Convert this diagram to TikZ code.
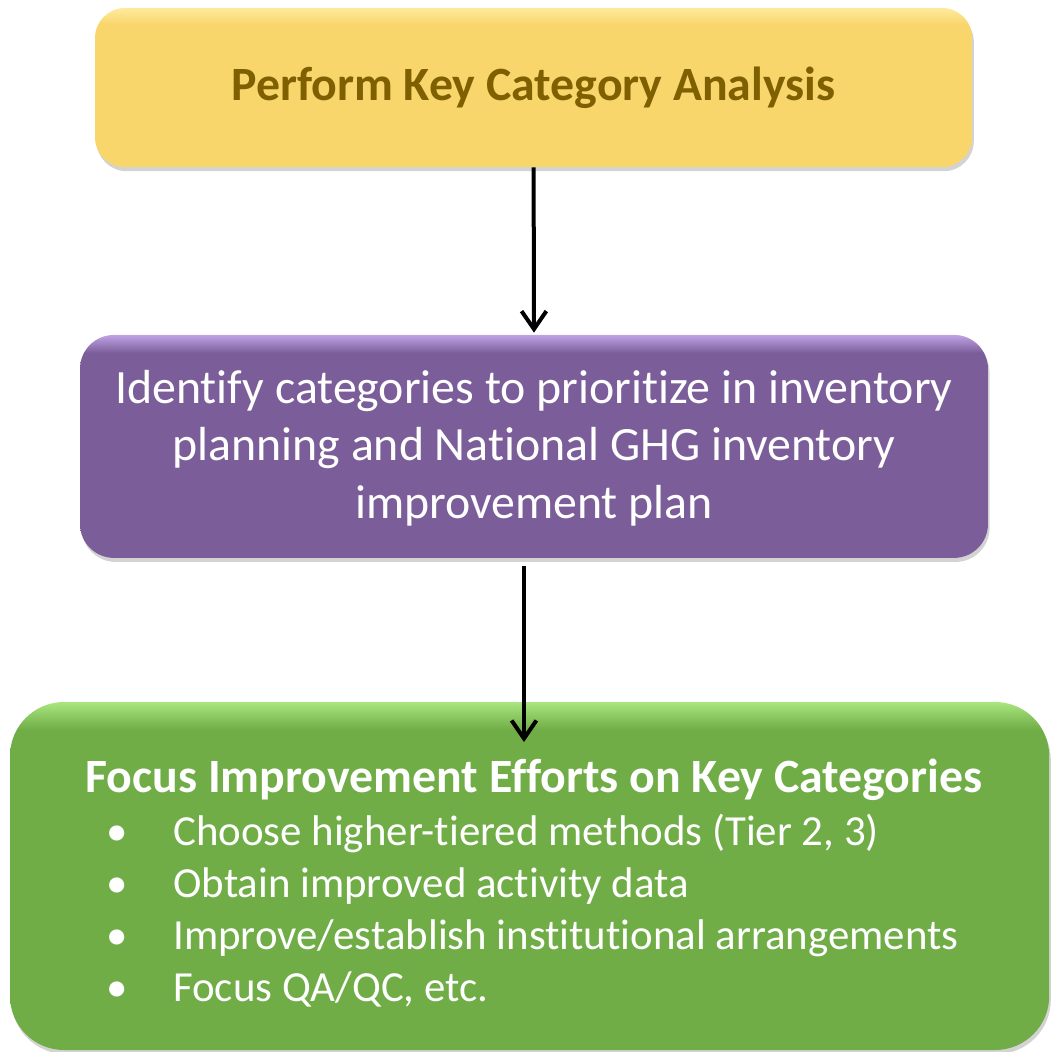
\documentclass[tikz,border=0pt]{standalone}
\usepackage{fontspec}
\setmainfont{Carlito}[Ligatures=NoCommon]
\usepackage{tikz}
\usetikzlibrary{arrows.meta,shadows,positioning}
\definecolor{ybase}{RGB}{249,214,108}
\definecolor{ytop}{RGB}{254,234,158}
\definecolor{ytext}{RGB}{127,96,0}
\definecolor{pbase}{RGB}{123,94,153}
\definecolor{ptop}{RGB}{192,163,230}
\definecolor{gbase}{RGB}{112,173,71}
\definecolor{gtop}{RGB}{170,230,128}
\pgfdeclareverticalshading{ybevel}{100bp}{color(0bp)=(ybase); color(25bp)=(ybase); color(70bp)=(ybase); color(75bp)=(ytop); color(100bp)=(ytop)}
\pgfdeclareverticalshading{pbevel}{100bp}{color(0bp)=(pbase); color(25bp)=(pbase); color(71bp)=(pbase); color(75bp)=(ptop); color(100bp)=(ptop)}
\pgfdeclareverticalshading{gbevel}{100bp}{color(0bp)=(gbase); color(25bp)=(gbase); color(71bp)=(gbase); color(75bp)=(gtop); color(100bp)=(gtop)}
\tikzstyle{none}=[inner sep=0pt]
\tikzstyle{boxshadow}=[drop shadow={shadow xshift=0.04cm,shadow yshift=-0.1cm,opacity=0.35}]
\tikzstyle{keybox}=[rectangle,rounded corners=0.75cm,shading=ybevel,boxshadow,minimum width=21.93cm,minimum height=3.98cm]
\tikzstyle{planbox}=[rectangle,rounded corners=0.85cm,shading=pbevel,boxshadow,minimum width=22.7cm,minimum height=5.575cm]
\tikzstyle{focusbox}=[rectangle,rounded corners=1.35cm,shading=gbevel,boxshadow,minimum width=25.98cm,minimum height=8.7cm]
\tikzstyle{flowarrow}=[-{Straight Barb[length=0.45cm,width=0.62cm]},line width=0.1cm,draw=black]
\tikzstyle{itemtext}=[none,anchor=base west,text=white,font=\fontsize{30.5}{37}\selectfont]

\begin{document}
\begin{tikzpicture}
	\useasboundingbox (0,0) rectangle (26.275,-26.3);
	% boxes
	\node [style=keybox] (key) at (13.34,-2.19) {};
	\node [style=planbox] (plan) at (13.35,-11.16) {};
	\node [style=focusbox] (focus) at (13.24,-21.9) {};
	% texts
	\node [style=none,text=ytext,font=\fontsize{34}{40}\selectfont\bfseries] (keytext) at (13.34,-2.2) {Perform Key Category Analysis};
	\node [style=none,text=white,align=center,font=\fontsize{34}{41}\selectfont] (plantext) at (13.35,-11.2) {Identify categories to prioritize in inventory\\planning and National GHG inventory\\improvement plan};
	\node [style=none,anchor=base,text=white,font=\fontsize{34}{40}\selectfont\bfseries] (focustitle) at (13.35,-19.8) {Focus Improvement Efforts on Key Categories};
	\node [style=itemtext] (item1) at (4.325,-21.125) {\llap{\textbullet\hskip 1.13cm}Choose higher-tiered methods (Tier 2, 3)};
	\node [style=itemtext] (item2) at (4.325,-22.425) {\llap{\textbullet\hskip 1.13cm}Obtain improved activity data};
	\node [style=itemtext] (item3) at (4.325,-23.725) {\llap{\textbullet\hskip 1.13cm}Improve/establish institutional arrangements};
	\node [style=itemtext] (item4) at (4.325,-25.025) {\llap{\textbullet\hskip 1.13cm}Focus QA/QC, etc.};
	\coordinate (focustip) at (13.1,-18.55);
	% arrows
	\draw [style=flowarrow,shorten >=0.05cm] (key.south) to (plan.north);
	\draw [style=flowarrow,shorten <=0.2cm] (plan.south -| focustip) to (focustip);
\end{tikzpicture}
\end{document}
